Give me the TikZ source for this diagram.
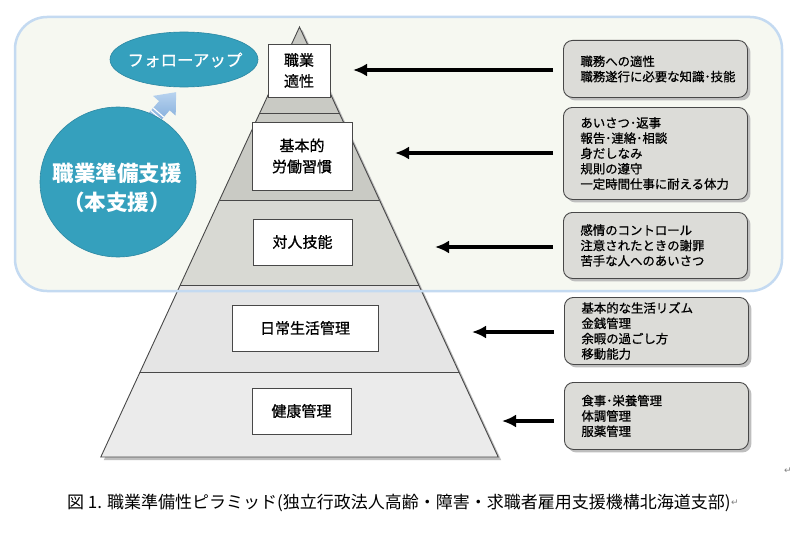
\documentclass[tikz,border=0pt]{standalone}
\usepackage{fontspec}
\setmainfont{Noto Sans CJK JP}
\newfontfamily\medfont[FakeBold=0.8]{Noto Sans CJK JP}
\newfontfamily\markfont{DejaVu Sans}
\usetikzlibrary{arrows.meta,shapes.geometric}

\definecolor{framefill}{HTML}{F6F8F1}
\definecolor{frameline}{HTML}{C4DAF1}
\definecolor{tealblue}{HTML}{35A0BD}
\definecolor{tealdark}{HTML}{2C88A3}
\definecolor{layerA}{HTML}{C9CAC4}
\definecolor{layerB}{HTML}{D8D9D3}
\definecolor{layerC}{HTML}{E5E5E5}
\definecolor{layerD}{HTML}{EBEBEB}
\definecolor{tagfill}{HTML}{DCDCD8}
\definecolor{shadowgray}{HTML}{BEBEBE}
\definecolor{edgegray}{HTML}{484848}
\definecolor{arrowlight}{HTML}{B8D3EF}
\definecolor{arrowdark}{HTML}{6F9FD4}

\begin{document}
\begin{tikzpicture}[x=1pt,y=-1pt,
    pyrbox/.style={draw=edgegray,fill=white,line width=0.9pt,align=center,
      inner sep=0pt,font=\medfont\fontsize{15}{21}\selectfont},
    tagbox/.style={draw=edgegray,fill=tagfill,line width=0.9pt,rounded corners=9pt,
      anchor=north west,minimum width=184pt,text width=150pt,inner xsep=17pt,
      align=left,font=\medfont\fontsize{12.4}{15.3}\selectfont,
      preaction={fill=shadowgray,transform canvas={xshift=3pt,yshift=-3pt}}},
    pointer/.style={line width=3.5pt,-{Latex[length=14pt,width=13pt]}}]
      \useasboundingbox (0,0) rectangle (795,535) ;
      \fill[white] (0,0) rectangle (795,535) ;
      \fill[framefill,rounded corners=32pt] (15,17) rectangle (782,291) ;
      % pyramid
      \fill[shadowgray] (302.5,30) -- (501.2,460) -- (103.8,460) -- cycle ;
      \fill[layerA] (299.5,27) -- (379.4,200) -- (219.6,200) -- cycle ;
      \fill[layerB] (219.6,200) -- (379.4,200) -- (418.7,285) -- (180.3,285) -- cycle ;
      \fill[layerC] (180.3,285) -- (418.7,285) -- (458.9,372) -- (140.1,372) -- cycle ;
      \fill[layerD] (140.1,372) -- (458.9,372) -- (498.2,457) -- (100.8,457) -- cycle ;
      \foreach \y/\xl/\xr in {113/259.8/339.2, 200/219.6/379.4, 285/180.3/418.7, 372/140.1/458.9}
        \draw[edgegray,line width=0.8pt] (\xl,\y) -- (\xr,\y) ;
      \draw[edgegray,line width=0.9pt] (299.5,27) -- (498.2,457) -- (100.8,457) -- cycle ;
      \draw[frameline,line width=2.5pt,rounded corners=32pt] (15,17) rectangle (782,291) ;
      \node[pyrbox,minimum width=62pt,minimum height=53pt] (fit) at (299,70.5) {職業\\適性} ;
      \node[pyrbox,minimum width=100pt,minimum height=68pt] (habit) at (302,156) {基本的\\労働習慣} ;
      \node[pyrbox,minimum width=99pt,minimum height=46pt] (social) at (302.5,242) {対人技能} ;
      \node[pyrbox,minimum width=146pt,minimum height=46pt] (daily) at (305,328) {日常生活管理} ;
      \node[pyrbox,minimum width=99pt,minimum height=46pt] (health) at (301.5,411) {健康管理} ;
      % explanation boxes
      \node[tagbox,minimum height=57pt] (tag1) at (563,40) {職務への適性\\職務遂行に必要な知識･技能} ;
      \node[tagbox,minimum height=92pt] (tag2) at (563,107) %
        {あいさつ･返事\\報告･連絡･相談\\身だしなみ\\規則の遵守\\一定時間仕事に耐える体力} ;
      \node[tagbox,minimum height=66pt] (tag3) at (563,212) %
        {感情のコントロール\\注意されたときの謝罪\\苦手な人へのあいさつ} ;
      \node[tagbox,minimum height=67pt] (tag4) at (564,297) %
        {基本的な生活リズム\\金銭管理\\余暇の過ごし方\\移動能力} ;
      \node[tagbox,minimum height=67pt] (tag5) at (564,382) {食事･栄養管理\\体調管理\\服薬管理} ;
      \coordinate (tip1) at (353,70) ;
      \coordinate (tip2) at (395,153) ;
      \coordinate (tip3) at (435,247) ;
      \coordinate (tip4) at (472,332) ;
      \coordinate (tip5) at (502,421) ;
      \foreach \n in {1,...,5}
        \draw[pointer] ([xshift=-10pt]tag\n.west |- tip\n) -- (tip\n) ;
      % support circle and follow-up
      \begin{scope}[shift={(145,128)},rotate=49]
        \shade[top color=arrowlight,bottom color=arrowdark] %
          (0,-7) -- (29.5,-7) -- (29.5,-15) -- (47.5,0) -- (29.5,15) -- (29.5,7) -- (0,7) -- cycle ;
        \foreach \s in {17,20.5}
          \draw[white,line width=1.1pt] (\s,-7) -- (\s,7) ;
      \end{scope}
      \node[ellipse,fill=tealblue,draw=tealdark,line width=0.6pt,inner sep=0pt,
        minimum width=156pt,minimum height=150pt] (prep) at (118,182) {} ;
      \node[text=white,font=\bfseries\fontsize{21.5}{29}\selectfont,align=center] %
        (preplabel) at (117,187.5) {職業準備支援\\（本支援）} ;
      \node[ellipse,fill=tealblue,draw=tealdark,line width=0.6pt,inner sep=0pt,
        minimum width=148pt,minimum height=55pt] (follow) at (184,59.5) {} ;
      \node[text=white,font=\medfont\fontsize{16.5}{20}\selectfont] (followlabel) at (185,60) {フォローアップ} ;
      % caption
      \node[anchor=west,inner sep=0pt,font=\fontsize{17}{20}\selectfont] (caption) at (67,503) %
        {図 1. 職業準備性ピラミッド(独立行政法人高齢・障害・求職者雇用支援機構北海道支部)} ;
      \node[anchor=west,inner sep=0pt,text=gray,font=\markfont\fontsize{9}{11}\selectfont] %
        (capmark) at (caption.east) {↵} ;
      \node[inner sep=0pt,text=gray,font=\markfont\fontsize{9}{11}\selectfont] (mark) at (788,471) {↵} ;
    \end{tikzpicture}
\end{document}
